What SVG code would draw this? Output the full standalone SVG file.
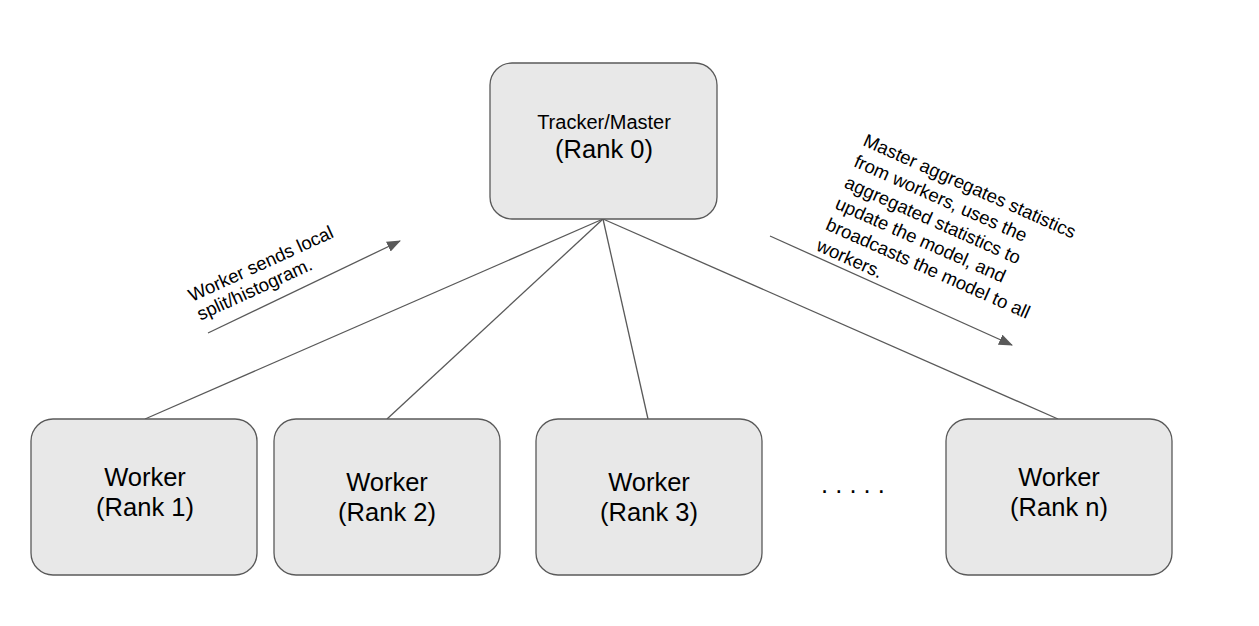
<svg xmlns="http://www.w3.org/2000/svg" width="1259" height="626" viewBox="0 0 1259 626">
  <style>
    .box { fill: #e8e8e8; stroke: #595959; stroke-width: 1.3; }
    .conn { stroke: #595959; stroke-width: 1.3; fill: none; }
    .lbl { font-family: "Liberation Sans", Arial, sans-serif; fill: #000; text-anchor: middle; }
    .big { font-size: 25.5px; }
    .mid { font-size: 20px; }
    .note { font-family: "Liberation Sans", Arial, sans-serif; font-size: 18.5px; fill: #000; }
  </style>
  <defs>
    <marker id="arrow" markerUnits="userSpaceOnUse" markerWidth="16" markerHeight="12" refX="13" refY="5.5" orient="auto">
      <path d="M0,0 L14,5.5 L0,11 Z" fill="#595959"/>
    </marker>
  </defs>
  <rect width="1259" height="626" fill="#ffffff"/>

  <g id="connectors">
    <line class="conn" x1="603" y1="219" x2="145" y2="419"/>
    <line class="conn" x1="603" y1="219" x2="387" y2="419"/>
    <line class="conn" x1="603" y1="219" x2="648" y2="419"/>
    <line class="conn" x1="603" y1="219" x2="1058" y2="419"/>
    <line class="conn" x1="208" y1="333" x2="400" y2="241" marker-end="url(#arrow)"/>
    <line class="conn" x1="770" y1="236" x2="1012" y2="345" marker-end="url(#arrow)"/>
  </g>

  <g id="master">
    <rect class="box" x="490" y="63" width="227" height="156" rx="22" ry="22"/>
    <text class="lbl mid" x="604" y="129">Tracker/Master</text>
    <text class="lbl big" x="604" y="158">(Rank 0)</text>
  </g>

  <g id="worker1">
    <rect class="box" x="31" y="419" width="226" height="156" rx="22" ry="22"/>
    <text class="lbl big" x="145" y="486">Worker</text>
    <text class="lbl big" x="145" y="516">(Rank 1)</text>
  </g>

  <g id="worker2">
    <rect class="box" x="274" y="419" width="226" height="156" rx="22" ry="22"/>
    <text class="lbl big" x="387" y="491">Worker</text>
    <text class="lbl big" x="387" y="521">(Rank 2)</text>
  </g>

  <g id="worker3">
    <rect class="box" x="536" y="419" width="226" height="156" rx="22" ry="22"/>
    <text class="lbl big" x="649" y="491">Worker</text>
    <text class="lbl big" x="649" y="521">(Rank 3)</text>
  </g>

  <g id="ellipsis">
    <text class="lbl big" x="853" y="493">. . . . .</text>
  </g>

  <g id="workern">
    <rect class="box" x="946" y="419" width="226" height="156" rx="22" ry="22"/>
    <text class="lbl big" x="1059" y="486">Worker</text>
    <text class="lbl big" x="1059" y="516">(Rank n)</text>
  </g>

  <g id="note-left">
    <text class="note" transform="translate(192,302) rotate(-24.5)">
      <tspan x="0" y="0">Worker sends local</tspan>
      <tspan x="0" y="20.5">split/histogram.</tspan>
    </text>
  </g>

  <g id="note-right">
    <text class="note" transform="translate(862,145) rotate(24)">
      <tspan x="0" y="0">Master aggregates statistics</tspan>
      <tspan x="0" y="23">from workers, uses the</tspan>
      <tspan x="0" y="46">aggregated statistics to</tspan>
      <tspan x="0" y="69">update the model, and</tspan>
      <tspan x="0" y="92">broadcasts the model to all</tspan>
      <tspan x="0" y="115">workers.</tspan>
    </text>
  </g>
</svg>
